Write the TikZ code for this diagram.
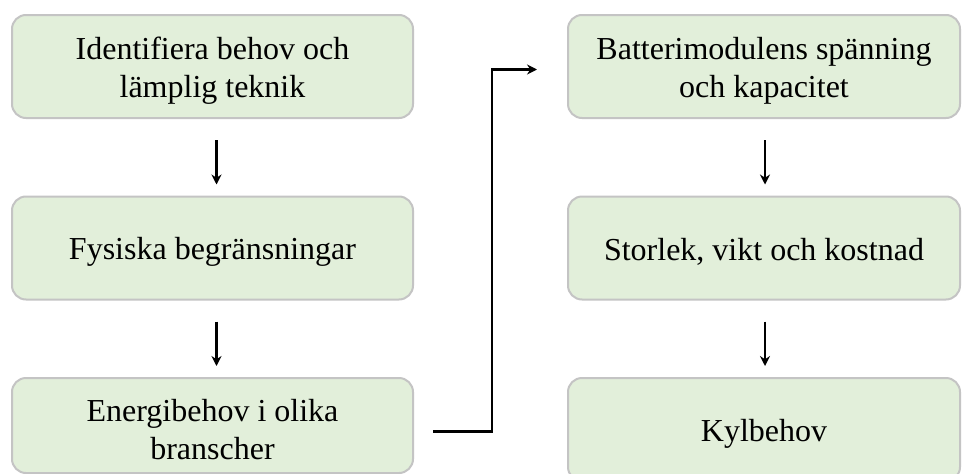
\documentclass[tikz,border=0pt]{standalone}
\usepackage{fontspec}
\setmainfont{Liberation Serif}
\usetikzlibrary{arrows.meta}
\definecolor{boxfill}{HTML}{E2EFDA}
\definecolor{boxline}{HTML}{C4C4C4}
\begin{document}
\begin{tikzpicture}[x=1pt,y=1pt,
  stepbox/.style={draw=boxline, line width=2pt, fill=boxfill, rounded corners=14pt,
    minimum height=103pt, inner sep=0pt},
  txt/.style={align=center, yshift=-4pt, font=\fontsize{32}{38}\selectfont},
  leftbox/.style={stepbox, minimum width=401pt},
  rightbox/.style={stepbox, minimum width=392pt},
  arr/.style={line width=2.4pt, -{Stealth[length=10pt,width=10pt]}}]
\useasboundingbox (0,0) rectangle (962,-474);
\clip (0,0) rectangle (962,-474);
\fill[white] (0,0) rectangle (962,-474);
\node[leftbox, label={[txt]center:{Identifiera behov och\\lämplig teknik}}] (a) at (212.5,-66.5) {};
\node[leftbox, label={[txt]center:{Fysiska begränsningar}}] (b) at (212.5,-248) {};
\node[leftbox, minimum height=95pt, label={[txt]center:{Energibehov i olika\\branscher}}] (c) at (212.5,-425.5) {};
\node[rightbox, label={[txt]center:{Batterimodulens spänning\\och kapacitet}}] (d) at (764,-66.5) {};
\node[rightbox, label={[txt]center:{Storlek, vikt och kostnad}}] (e) at (764,-248) {};
\node[rightbox, label={[txt]center:{Kylbehov}}] (f) at (764,-429.5) {};
\draw[arr] ([xshift=4pt,yshift=-21pt]a.south) -- ([xshift=4pt,yshift=11pt]b.north);
\draw[arr] ([xshift=4pt,yshift=-21pt]b.south) -- ([xshift=4pt,yshift=11pt]c.north);
\draw[arr] ([xshift=1pt,yshift=-21pt]d.south) -- ([xshift=1pt,yshift=11pt]e.north);
\draw[arr] ([xshift=1pt,yshift=-21pt]e.south) -- ([xshift=1pt,yshift=11pt]f.north);
\draw[arr] ([xshift=19pt,yshift=-6pt]c.east) -- ++(59pt,0) |- ([xshift=-30pt,yshift=-3pt]d.west);
\end{tikzpicture}
\end{document}
